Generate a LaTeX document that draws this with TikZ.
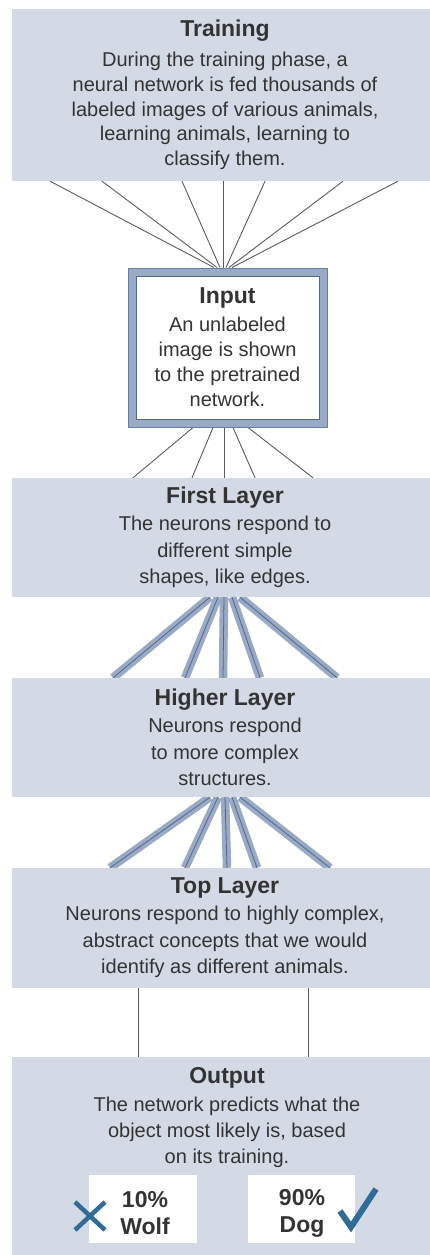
\documentclass[tikz,border=0pt]{standalone}
\usepackage{fontspec}
\setmainfont{Liberation Sans}
\usetikzlibrary{backgrounds}

\definecolor{panel}{HTML}{D3DAE6}
\definecolor{band}{HTML}{98AAC5}
\definecolor{bandcore}{HTML}{55678A}
\definecolor{frameedge}{HTML}{6A7F9E}
\definecolor{wire}{HTML}{5C5C5C}
\definecolor{ink}{HTML}{333333}
\definecolor{markblue}{HTML}{2F6C96}

\newcommand{\hd}[1]{{\fontsize{23}{27}\selectfont\bfseries #1}}

\begin{document}
\begin{tikzpicture}[x=1pt,y=-1pt,
  panelbox/.style={fill=panel, draw=none, inner sep=0pt, align=center,
    text=ink, minimum width=426pt},
  bodytext/.style={font=\fontsize{20}{26.5}\selectfont},
  inputframe/.style={fill=band, draw=frameedge, line width=1pt,
    minimum width=199pt, minimum height=159pt, inner sep=0pt},
  inputcore/.style={fill=white, draw=bandcore, line width=0.8pt,
    minimum width=183pt, minimum height=143pt, inner sep=0pt,
    align=center, text=ink, font=\fontsize{20}{25}\selectfont},
  choice/.style={fill=white, draw=none, minimum height=68pt, inner sep=0pt},
  choicetext/.style={inner sep=0pt, align=center, text=ink,
    font=\fontsize{23}{27}\selectfont\bfseries},
  wire/.style={draw=wire, line width=0.9pt},
  bandline/.style={draw=band, line width=8.5pt},
  coreline/.style={draw=bandcore, line width=0.8pt},
  markline/.style={draw=markblue, line width=4.5pt}]

\useasboundingbox (0,0) rectangle (429,1255);

% layer panels
\node[panelbox, minimum height=172pt, font=\fontsize{20}{24.75}\selectfont]
  (train) at (225,95)
  {\hd{Training}\\[5pt]During the training phase, a\\neural network is fed thousands of\\labeled images of various animals,\\learning animals, learning to\\classify them.};

\node[inputframe] (input) at (227.5,347.5) {};
\node[inputcore] (inputcore) at (input.center)
  {\hd{Input}\\[3pt]An unlabeled\\image is shown\\to the pretrained\\network.};

\node[panelbox, bodytext, minimum height=119pt] (first) at (225,537.5)
  {\hd{First Layer}\\[0.5pt]The neurons respond to\\different simple\\shapes, like edges.};

\node[panelbox, bodytext, minimum height=119pt] (higher) at (225,737.5)
  {\hd{Higher Layer}\\[0.5pt]Neurons respond\\to more complex\\structures.};

\node[panelbox, bodytext, minimum height=120pt] (top) at (225,928)
  {\hd{Top Layer}\\[0.5pt]Neurons respond to highly complex,\\abstract concepts that we would\\identify as different animals.};

\node[panelbox, minimum height=210pt] (output) at (225,1162) {};
\node[align=center, text=ink, inner sep=0pt, font=\fontsize{20}{26}\selectfont]
  (outtext) at (227,1118)
  {\hd{Output}\\[2pt]The network predicts what the\\object most likely is, based\\on its training.};

\node[choice, minimum width=108pt] (wolf) at (143,1209) {};
\node[choicetext] (wolftext) at (145,1213) {10\%\\Wolf};
\node[choice, minimum width=107pt] (dog) at (301.5,1209) {};
\node[choicetext] (dogtext) at (302,1213) {90\%\\Dog};

% wrong / right marks
\draw[markline] (75,1202) -- (105,1230);
\draw[markline] (75,1230) -- (105,1202);
\draw[markline, line width=6pt, line join=miter]
  (340,1211) -- (351,1227) -- (376,1189);

% connections between the layers
\begin{scope}[on background layer]
  \fill[white] (0,0) rectangle (429,1255);
  \foreach \a/\b in {50/214, 102/217, 182/220, 223/223, 265/226, 343/229, 398/232}
    \draw[wire] (\a,0 |- train.south) -- (\b,0 |- input.north);
  \foreach \a/\b in {193/133, 213/192, 224/224, 233/255, 248/313}
    \draw[wire] (\a,0 |- input.south) -- (\b,0 |- first.north);
  \foreach \a/\b in {210/113, 218/185, 224/223, 232/260, 240/337} {
    \draw[bandline] (\a,0 |- first.south) -- (\b,0 |- higher.north);
    \draw[coreline] (\a,0 |- first.south) -- (\b,0 |- higher.north);
  }
  \foreach \a/\b in {210/110, 218/185, 225/227, 232/257, 240/330} {
    \draw[bandline] (\a,0 |- higher.south) -- (\b,0 |- top.north);
    \draw[coreline] (\a,0 |- higher.south) -- (\b,0 |- top.north);
  }
  \foreach \a in {138, 308}
    \draw[wire] (\a,0 |- top.south) -- (\a,0 |- output.north);
\end{scope}
\end{tikzpicture}
\end{document}
